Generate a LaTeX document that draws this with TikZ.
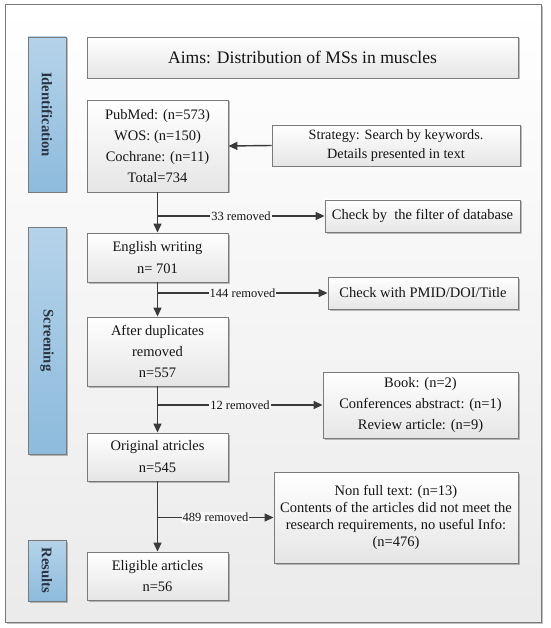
\documentclass[tikz,border=0pt]{standalone}
\usepackage{fontspec}
\setmainfont{Liberation Serif}
\usetikzlibrary{shadows,arrows.meta}
\definecolor{linecol}{HTML}{3A3A3A}
\definecolor{boxline}{HTML}{7A7A7A}
\definecolor{bartop}{HTML}{B5D3EA}
\definecolor{barbot}{HTML}{8DBBDC}
\definecolor{txt}{HTML}{141414}
\definecolor{sidetxt}{HTML}{2A3440}
\tikzset{
  frame/.style={draw=boxline, line width=0.9pt, top color=white, bottom color=black!8,
    drop shadow={shadow xshift=1.5pt, shadow yshift=-1.5pt, fill=black, opacity=0.25}},
  box/.style={draw=boxline, line width=0.9pt, top color=white, bottom color=black!10,
    align=center, inner sep=2pt, text=txt,
    font=\fontsize{14.5}{21}\selectfont,
    drop shadow={shadow xshift=1.5pt, shadow yshift=-1.5pt, fill=black, opacity=0.25}},
  sidebar/.style={draw=boxline, line width=0.9pt, top color=bartop, bottom color=barbot,
    inner sep=0pt, text=txt,
    drop shadow={shadow xshift=1.5pt, shadow yshift=-1.5pt, fill=black, opacity=0.25}},
  sidelabel/.style={rotate=-90, font=\fontsize{14.7}{18}\selectfont\bfseries, text=sidetxt},
  arr/.style={draw=linecol, line width=1.4pt, -{Triangle[length=9pt,width=8pt]}},
  lab/.style={fill=white!97!black, inner xsep=1pt, inner ysep=1pt, text=txt,
    font=\fontsize{12.5}{14}\selectfont}
}
\begin{document}
\begin{tikzpicture}[x=1pt,y=-1pt]
\useasboundingbox (0,0) rectangle (550,628);
% outer frame
\node[frame, minimum width=536pt, minimum height=617.5pt, inner sep=0pt] (frm) at (273,313.25) {};

% side bars
\node[sidebar, minimum width=38pt, minimum height=155pt] (idbar) at (47,114.5) {};
\node[sidelabel] (idlab) at (idbar.center) {Identification};
\node[sidebar, minimum width=38pt, minimum height=227pt] (scrbar) at (47,340.5) {};
\node[sidelabel] (scrlab) at (scrbar.center) {Screening};
\node[sidebar, minimum width=38pt, minimum height=61pt] (resbar) at (47,570.5) {};
\node[sidelabel] (reslab) at (resbar.center) {Results};

% main boxes
\node[box, minimum width=431pt, minimum height=41pt, font=\fontsize{17.6}{21}\selectfont] (aims) at (302.5,57.5) {Aims: Distribution of MSs in muscles};
\node[box, minimum width=141pt, minimum height=92pt] (pub) at (157.5,146) {PubMed: (n=573)\\WOS: (n=150)\\Cochrane: (n=11)\\Total=734};
\node[box, minimum width=248pt, minimum height=41pt, font=\fontsize{14.2}{19}\selectfont] (strat) at (396,145.5) {Strategy: Search by keywords.\\Details presented in text};
\node[box, minimum width=195pt, minimum height=32pt] (filt) at (422.5,216) {Check by\ \ the filter of database};
\node[box, minimum width=141pt, minimum height=49pt, font=\fontsize{14.5}{22}\selectfont] (eng) at (157.5,257.5) {English writing\\n= 701};
\node[box, minimum width=190pt, minimum height=32pt] (pmid) at (423,293) {Check with PMID/DOI/Title};
\node[box, minimum width=141pt, minimum height=69pt] (dup) at (157.5,351.5) {After duplicates\\removed\\n=557};
\node[box, minimum width=195pt, minimum height=66pt] (book) at (420.5,405) {Book: (n=2)\\Conferences abstract: (n=1)\\Review article: (n=9)};
\node[box, minimum width=141pt, minimum height=48pt, font=\fontsize{14.5}{22}\selectfont] (orig) at (157.5,457) {Original atricles\\n=545};
\node[box, minimum width=244pt, minimum height=91pt, font=\fontsize{14.5}{16.8}\selectfont] (nonf) at (396,517.5) {Non full text: (n=13)\\Contents of the articles did not meet the\\research requirements, no useful Info:\\(n=476)};
\node[box, minimum width=141pt, minimum height=48pt] (elig) at (157.5,576) {Eligible articles\\n=56};

% connectors
\draw[arr] (strat.west) -- (pub.east);
\draw[arr] (pub.south) -- (eng.north);
\draw[arr] (pub.south |- filt.west) -- node[lab] {33 removed} (filt.west);
\draw[arr] (eng.south) -- (dup.north);
\draw[arr] (eng.south |- pmid.west) -- node[lab] {144 removed} (pmid.west);
\draw[arr] (dup.south) -- (orig.north);
\draw[arr] (dup.south |- book.west) -- node[lab] {12 removed} (book.west);
\draw[arr] (orig.south) -- (elig.north);
\draw[arr] (orig.south |- nonf.west) -- node[lab] {489 removed} (nonf.west);
\end{tikzpicture}
\end{document}
